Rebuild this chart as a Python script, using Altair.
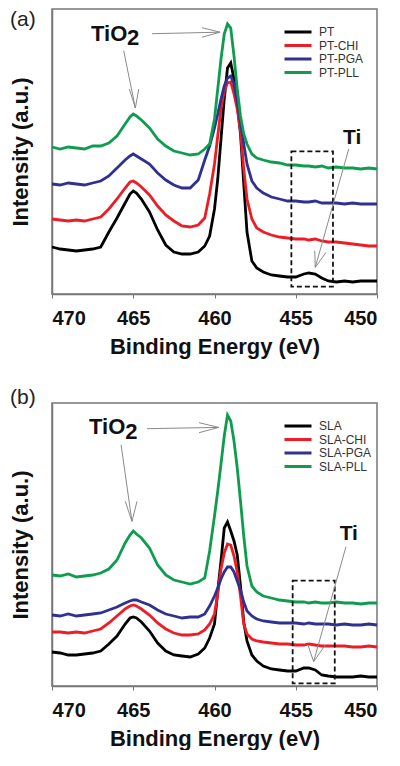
import altair as alt
import pandas as pd

# Shared binding-energy grid (eV)
ENERGY = [470, 469.5, 469, 468.5, 468, 467.5, 467, 466.5, 466, 465.5,
          465.2, 465, 464.8, 464.5, 464, 463.5, 463, 462.5, 462, 461.5,
          461, 460.6, 460.3, 460, 459.8, 459.6, 459.4, 459.2, 459.0, 458.8,
          458.6, 458.4, 458.2, 458, 457.7, 457.4, 457, 456.5, 456, 455.5,
          455, 454.5, 454.2, 453.8, 453.4, 453, 452.5, 452, 451.5, 451,
          450.5, 450]

# Panel (a) intensities (a.u.)
PT = [47, 45, 44, 43, 44, 45, 47, 62, 76, 91,
      100, 103, 101, 95, 82, 64, 49, 42, 40, 40,
      42, 48, 58, 85, 115, 155, 195, 226, 231, 215,
      190, 160, 110, 62, 33, 26, 22, 19, 18, 17,
      17, 20, 21, 20, 16, 13, 12, 13, 12, 13,
      13, 13]
PT_CHI = [75, 74, 73, 74, 73, 75, 77, 85, 95, 106,
          112, 113, 111, 107, 99, 88, 79, 73, 68, 67,
          69, 76, 100, 130, 158, 185, 203, 211, 212, 200,
          185, 163, 125, 95, 75, 66, 62, 59, 57, 56,
          55, 55, 54, 55, 53, 52, 52, 51, 50, 49,
          48, 48]
PT_PGA = [110, 109, 111, 110, 109, 111, 113, 118, 126, 134,
          138, 140, 138, 135, 130, 121, 114, 109, 106, 106,
          114, 134, 148, 166, 180, 195, 208, 216, 218, 210,
          192, 172, 150, 130, 113, 106, 101, 97, 95, 93,
          93, 92, 92, 93, 91, 91, 91, 90, 91, 90,
          90, 90]
PT_PLL = [147, 145, 147, 146, 145, 148, 148, 151, 158, 170,
          177, 180, 178, 174, 166, 155, 148, 143, 141, 139,
          140, 145, 150, 175, 205, 235, 260, 270, 266, 238,
          205, 178, 160, 150, 140, 136, 134, 132, 131, 129,
          129, 128, 128, 127, 128, 126, 127, 126, 126, 125,
          126, 125]

# Panel (b) intensities (a.u.)
SLA = [34, 33, 31, 31, 32, 33, 35, 42, 50, 62,
       68, 69, 68, 64, 55, 43, 35, 31, 30, 29,
       32, 38, 48, 62, 95, 125, 158, 164, 155, 145,
       131, 100, 64, 45, 31, 25, 20, 17, 16, 15,
       15, 18, 18, 16, 11, 10, 9, 9, 9, 10,
       9, 9]
SLA_CHI = [54, 54, 53, 54, 53, 55, 57, 63, 70, 77,
           80, 81, 80, 77, 71, 63, 57, 53, 51, 51,
           52, 56, 62, 72, 92, 117, 133, 142, 141, 130,
           114, 90, 62, 52, 47, 45, 44, 43, 42, 42,
           41, 41, 42, 41, 40, 40, 40, 40, 39, 39,
           40, 39]
SLA_PGA = [71, 70, 72, 70, 71, 72, 73, 76, 79, 83,
           85, 86, 86, 84, 81, 76, 72, 70, 68, 69,
           69, 72, 80, 90, 98, 107, 114, 119, 119, 114,
           105, 96, 84, 75, 70, 67, 65, 64, 63, 63,
           63, 62, 63, 62, 62, 62, 61, 62, 61, 61,
           62, 61]
SLA_PLL = [111, 110, 112, 109, 110, 111, 113, 117, 126, 143,
           151, 155, 152, 148, 138, 121, 111, 106, 104, 102,
           104, 108, 135, 170, 195, 222, 250, 271, 265, 245,
           218, 185, 150, 120, 100, 94, 90, 88, 86, 85,
           84, 84, 83, 84, 83, 83, 84, 83, 83, 82,
           83, 83]

SERIES_A = ["PT", "PT-CHI", "PT-PGA", "PT-PLL"]
SERIES_B = ["SLA", "SLA-CHI", "SLA-PGA", "SLA-PLL"]
COLORS = ["#000000", "#ee1c25", "#2e3192", "#0e9c4f"]
X_TICKS = [470, 465, 460, 455, 450]

# Annotations: arrow segments (e1, i1, e2, i2)
ARROWS_A = [(463.85, 260.3, 459.66, 261.8), (460.77, 266.3, 459.66, 261.8), (460.77, 256.8, 459.66, 261.8),
            (465.59, 243.3, 464.87, 186.0), (465.24, 205.0, 464.87, 186.0), (464.66, 205.0, 464.87, 186.0),
            (451.74, 145.0, 453.80, 26.6), (453.83, 43.3, 453.80, 26.6), (453.14, 41.6, 453.80, 26.6)]
ARROWS_B = [(464.15, 257.3, 459.74, 258.6), (460.95, 263.3, 459.74, 258.6), (460.95, 253.3, 459.74, 258.6),
            (465.75, 241.3, 465.08, 164.6), (465.49, 184.6, 465.08, 164.6), (464.77, 184.6, 465.08, 164.6),
            (451.91, 139.3, 453.90, 24.3), (454.25, 41.0, 453.90, 24.3), (453.18, 41.0, 453.90, 24.3)]
RECT_A = (455.27, 142.6, 452.71, 7.3)
RECT_B = (455.19, 105.3, 452.60, 2.6)
LABELS_A = [("TiO", 467.60, 253.5, 22), ("2", 465.38, 249.0, 22), ("Ti", 452.09, 150.3, 21)]
LABELS_B = [("TiO", 467.72, 252.0, 22), ("2", 465.50, 247.5, 22), ("Ti", 452.30, 146.3, 21)]

FONT = "Liberation Sans"


def panel(names, series, ymax, height, arrows, rect, labels, tag, tag_y):
    rows = []
    for name, vals in zip(names, series):
        for e, v in zip(ENERGY, vals):
            rows.append({"energy": e, "intensity": v, "series": name})
    df = pd.DataFrame(rows)

    xs = alt.Scale(domain=[450, 470], reverse=True, nice=False, zero=False)
    ys = alt.Scale(domain=[0, ymax], nice=False, zero=False)
    xaxis = alt.Axis(values=X_TICKS, format="d", title="Binding Energy (eV)",
                     labelFont=FONT, labelFontSize=20, labelFontWeight="bold",
                     labelColor="#111111", labelPadding=10, tickSize=4,
                     titleFont=FONT, titleFontSize=22, titleFontWeight="bold",
                     titleColor="#111111", titlePadding=8, grid=False)
    yaxis = alt.Axis(labels=False, ticks=False, title="Intensity (a.u.)",
                     titleFont=FONT, titleFontSize=22, titleFontWeight="bold",
                     titleColor="#111111", titlePadding=20, grid=False)
    X = alt.X("energy:Q", scale=xs, axis=xaxis)
    Y = alt.Y("intensity:Q", scale=ys, axis=yaxis)

    lines = alt.Chart(df).mark_line(strokeWidth=2.8).encode(
        x=X, y=Y,
        color=alt.Color("series:N", scale=alt.Scale(domain=names, range=COLORS),
                        legend=alt.Legend(title=None, orient="none", legendX=231, legendY=17,
                                          symbolType="stroke", symbolSize=729, symbolStrokeWidth=3,
                                          labelFont=FONT, labelFontSize=12, labelColor="#333333",
                                          clipHeight=12, rowPadding=1.5, labelOffset=6, padding=0)),
    )

    adf = pd.DataFrame(arrows, columns=["energy", "intensity", "energy2", "intensity2"])
    arrow_layer = alt.Chart(adf).mark_rule(color="#8a8a8a", strokeWidth=1).encode(
        x=X, y=Y, x2="energy2:Q", y2="intensity2:Q")

    rdf = pd.DataFrame([rect], columns=["energy", "intensity", "energy2", "intensity2"])
    rect_layer = alt.Chart(rdf).mark_rect(fillOpacity=0, stroke="#111111", strokeWidth=1.8,
                                          strokeDash=[5, 3]).encode(
        x=X, y=Y, x2="energy2:Q", y2="intensity2:Q")

    layers = [lines, rect_layer, arrow_layer]
    for txt, e, i, fs in labels:
        tdf = pd.DataFrame({"energy": [e], "intensity": [i], "label": [txt]})
        layers.append(alt.Chart(tdf).mark_text(font=FONT, fontSize=fs, fontWeight="bold",
                                               align="left", baseline="alphabetic",
                                               color="#111111").encode(x=X, y=Y, text="label:N"))

    tag_df = pd.DataFrame({"t": [tag]})
    layers.append(alt.Chart(tag_df).mark_text(font=FONT, fontSize=21, align="left", baseline="top",
                                              color="#222222").encode(
        text="t:N", x=alt.value(-42), y=alt.value(tag_y)))

    return alt.layer(*layers).properties(width=325, height=height)


panel_a = panel(SERIES_A, [PT, PT_CHI, PT_PGA, PT_PLL], 285, 285, ARROWS_A, RECT_A, LABELS_A, "(a)", 0)
panel_b = panel(SERIES_B, [SLA, SLA_CHI, SLA_PGA, SLA_PLL], 283, 283, ARROWS_B, RECT_B, LABELS_B, "(b)", -16)

chart = (
    alt.vconcat(panel_a, panel_b, spacing=28)
    .resolve_scale(color="independent", x="independent", y="independent")
    .resolve_legend(color="independent")
    .properties(padding={"left": 0, "top": 0, "right": 0, "bottom": 0})
    .configure_view(stroke="#777777", strokeWidth=1.5)
    .configure_axis(domainColor="#777777", tickColor="#777777", domainWidth=1.5, grid=False)
)

chart.save("out.html", embed_options={"renderer": "svg", "actions": False})
